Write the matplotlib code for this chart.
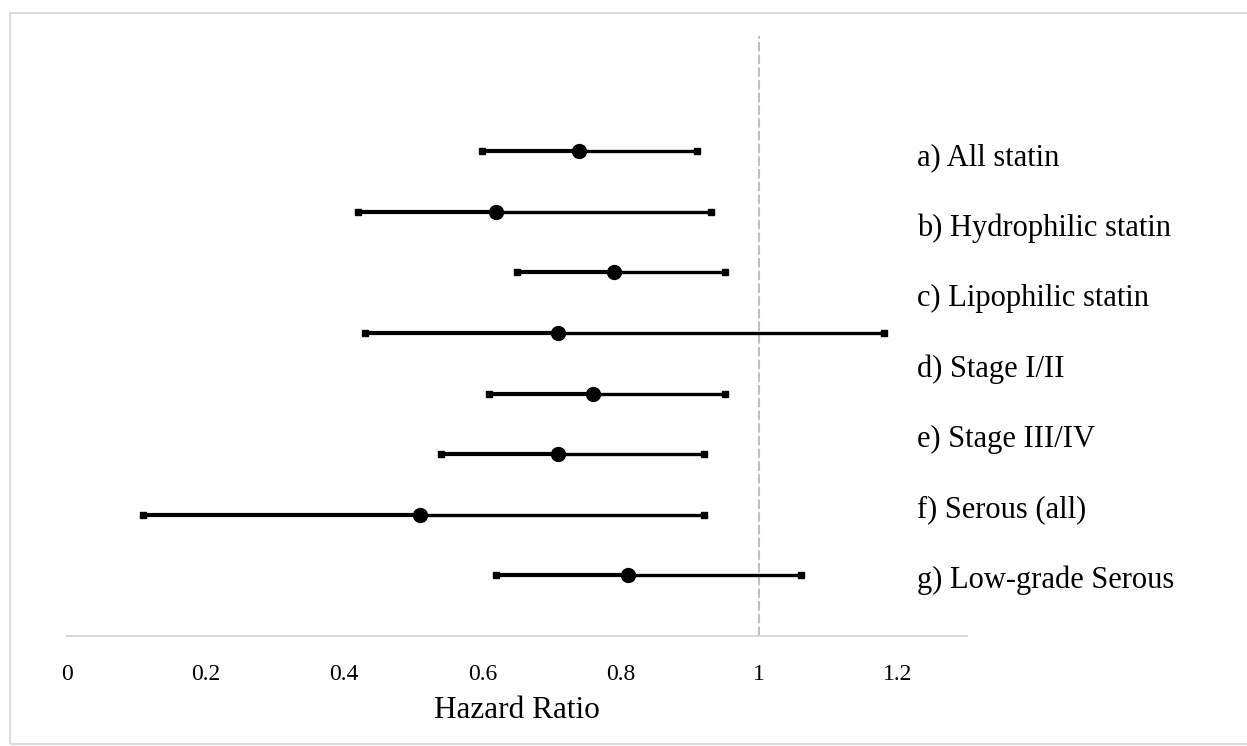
import numpy as np
import matplotlib.pyplot as plt
from matplotlib.patches import Rectangle

# hazard ratios with 95% CI, top row first
hr = [0.74, 0.62, 0.79, 0.71, 0.76, 0.71, 0.51, 0.81]
lo = [0.60, 0.42, 0.65, 0.43, 0.61, 0.54, 0.11, 0.62]
hi = [0.91, 0.93, 0.95, 1.18, 0.95, 0.92, 0.92, 1.06]

labels = ['a) All statin', 'b) Hydrophilic statin', 'c) Lipophilic statin',
          'd) Stage I/II', 'e) Stage III/IV', 'f) Serous (all)',
          'g) Low-grade Serous']

xticks = [0, 0.2, 0.4, 0.6, 0.8, 1, 1.2]

plt.rcParams['font.family'] = ['Liberation Serif', 'DejaVu Serif']

fig = plt.figure(figsize=(12.47, 7.46), dpi=100)
ax = fig.add_axes([0.0537, 0.1475, 0.7217, 0.804])

# light grey chart border
fig.patches.append(Rectangle((0.008, 0.003), 1.2, 0.98, transform=fig.transFigure,
                             fill=False, edgecolor='#D9D9D9', linewidth=1.3))

ypos = np.arange(len(hr), 0, -1)

# reference line at HR = 1
ax.axvline(1, color='#BFBFBF', lw=1.5, linestyle=(0, (4.5, 1.6)), zorder=1)

for y, h, l, u in zip(ypos, hr, lo, hi):
    ax.plot([l, h], [y, y], color='black', lw=3.0, solid_capstyle='butt', zorder=2)
    ax.plot([h, u], [y, y], color='black', lw=2.4, solid_capstyle='butt', zorder=2)

ax.plot(lo, ypos, 's', color='black', markersize=3.8, zorder=3)
ax.plot(hi, ypos, 's', color='black', markersize=3.8, zorder=3)
ax.plot(hr, ypos, 'o', color='black', markersize=10, zorder=4)

# category labels on the right
label_y = np.linspace(7.89, 0.92, len(labels))
for y, t in zip(label_y, labels):
    ax.text(1.228, y, t, fontsize=22, va='center', ha='left', clip_on=False)

ax.set_xlim(0, 1.3)
ax.set_ylim(0, 9.9)
ax.set_xticks(xticks)
ax.set_xticklabels([f'{v:g}' for v in xticks], fontsize=17)
ax.tick_params(axis='x', length=0, pad=20)
ax.set_yticks([])

for s in ['top', 'right', 'left']:
    ax.spines[s].set_visible(False)
ax.spines['bottom'].set_color('#D9D9D9')
ax.spines['bottom'].set_linewidth(1.5)

ax.set_xlabel('Hazard Ratio', fontsize=22.5, labelpad=8)

plt.savefig('out.png', dpi=100)
